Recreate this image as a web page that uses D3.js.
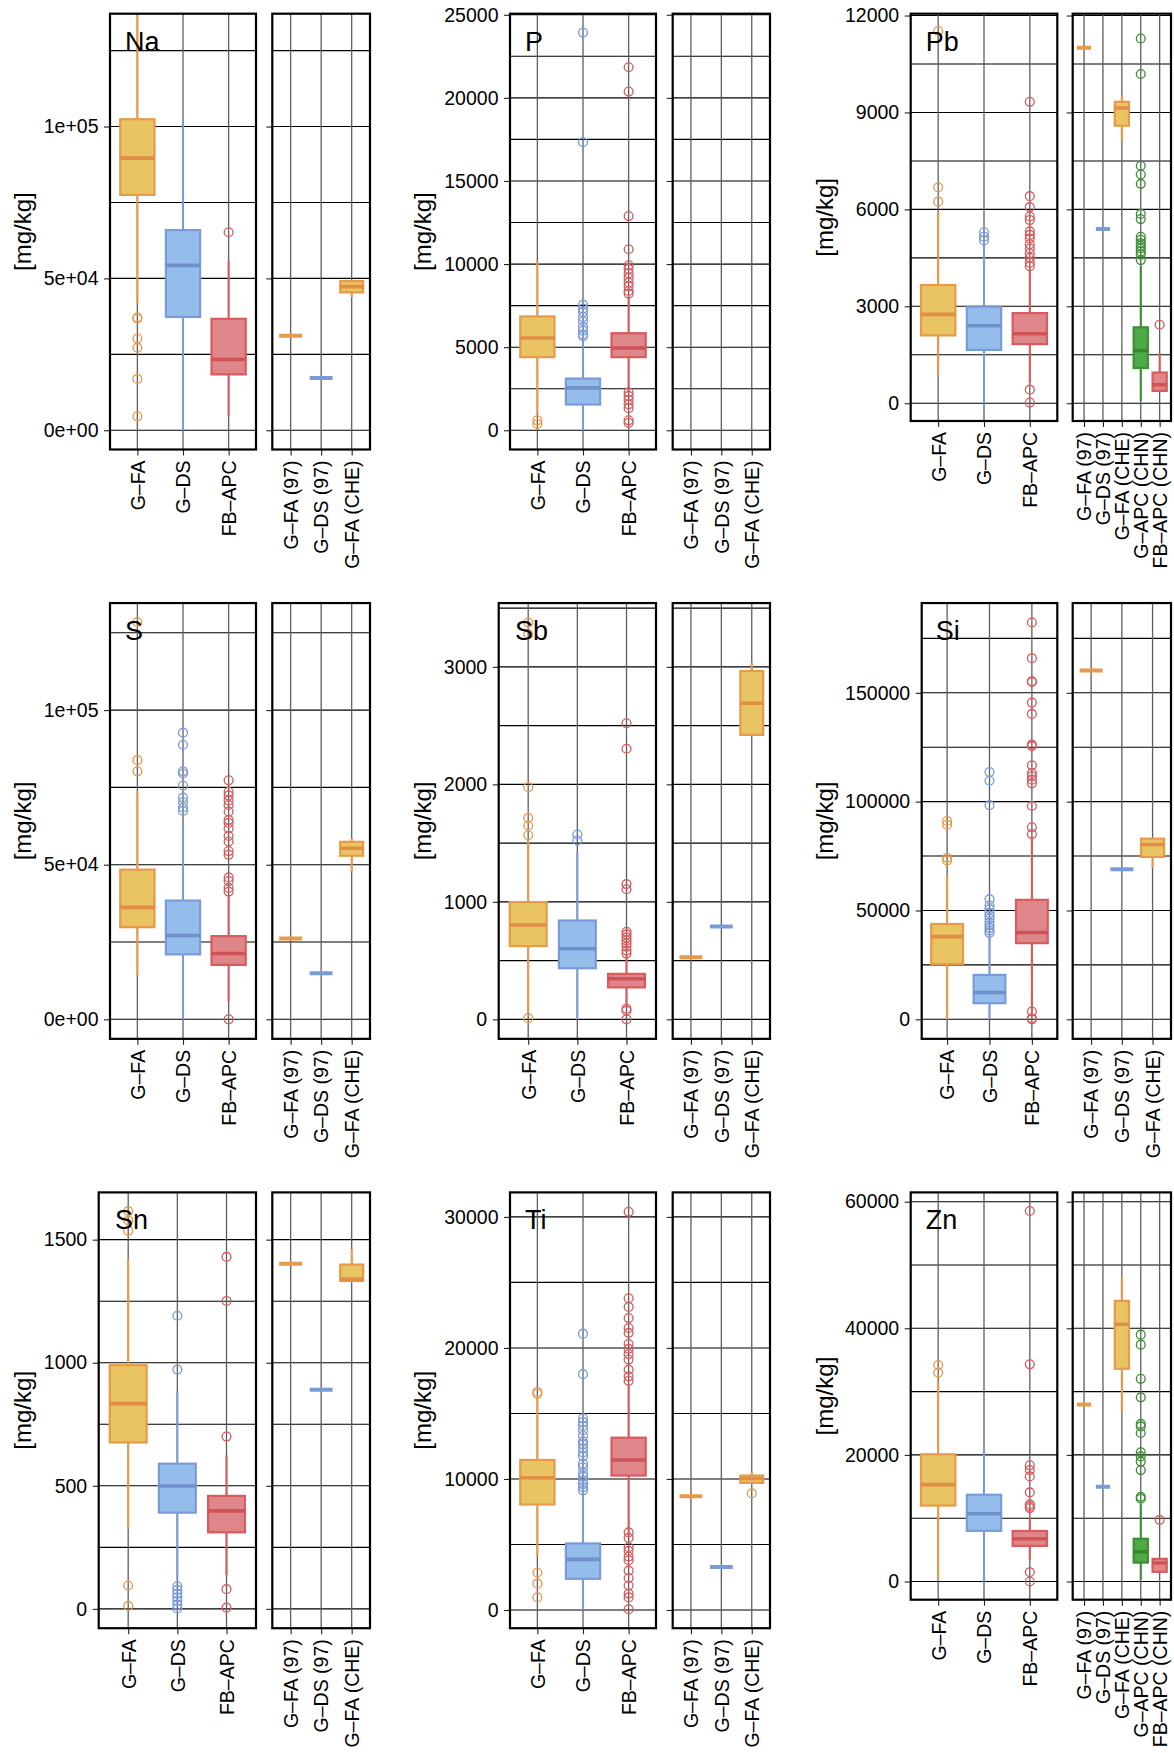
<!DOCTYPE html>
<html>
<head>
<meta charset="utf-8">
<script src="https://cdn.jsdelivr.net/npm/d3@7"></script>
<style>
  body { margin: 0; background: #fff; }
  svg { display: block; }
  text { font-family: "Liberation Sans", Arial, Helvetica, sans-serif; fill: #000; }
</style>
</head>
<body>
<svg id="chart" width="1174" height="1753"></svg>
<script>
// ---------------------------------------------------------------
// Data: element concentrations [mg/kg]
// Box statistics are [lower whisker, Q1, median, Q3, upper whisker]
// ---------------------------------------------------------------
const elements = ["Na", "P", "Pb", "S", "Sb", "Si", "Sn", "Ti", "Zn"];
const mainGroups = ["G–FA", "G–DS", "FB–APC"];
const refGroups = ["G–FA (97)", "G–DS (97)", "G–FA (CHE)", "G–APC (CHN)", "FB–APC (CHN)"];

// Na
const naBoxes = [[42000, 77500, 89600, 102400, 140000], [0, 37300, 54300, 65900, 102100], [4600, 18400, 23300, 36700, 55700]];
const naOutliers = [[37100, 36800, 30200, 27200, 16900, 4600], [], [65200]];
const naRefBoxes = [[31100, 31100, 31100, 31100, 31100], [17200, 17200, 17200, 17200, 17200], [43600, 45400, 47300, 49100, 49100]];
const naRefOutliers = [[], [], []];
const naLimits = [-6330, 137150];
const naTicks = [0, 50000, 100000];
const naTickLabels = ["0e+00", "5e+04", "1e+05"];

// P
const pBoxes = [[1000, 4400, 5550, 6850, 10200], [0, 1550, 2550, 3110, 5490], [2330, 4400, 4950, 5840, 8100]];
const pOutliers = [
  [600, 380],
  [5670, 5780, 6000, 6220, 6560, 6820, 7110, 7330, 7560, 17330, 23930],
  [8220, 8380, 8670, 8890, 9180, 9440, 9710, 9930, 10890, 12890, 20380, 21840, 2290, 2070, 1840, 1560, 1330, 600, 440]
];
const pRefBoxes = [null, null, null];
const pRefOutliers = [[], [], []];
const pLimits = [-1156, 25064];
const pTicks = [0, 5000, 10000, 15000, 20000, 25000];
const pTickLabels = ["0", "5000", "10000", "15000", "20000", "25000"];

// Pb
const pbBoxes = [[880, 2100, 2750, 3660, 5900], [0, 1650, 2400, 2990, 4920], [630, 1830, 2150, 2790, 4150]];
const pbOutliers = [
  [6240, 6680, 11520],
  [5040, 5150, 5290],
  [4240, 4350, 4500, 4640, 4790, 4920, 5100, 5210, 5320, 5670, 5780, 6070, 6410, 9330, 420, 20]
];
const pbRefBoxes = [
  [11000, 11000, 11000, 11000, 11000],
  [5390, 5390, 5390, 5390, 5390],
  [8110, 8590, 9140, 9330, 9530],
  [60, 1090, 1630, 2350, 4240],
  [380, 380, 570, 950, 1550]
];
const pbRefOutliers = [[], [], [], [4430, 4600, 4700, 4790, 4870, 4950, 5060, 5150, 5700, 5860, 6790, 7080, 7350, 10190, 11290], [2430]];
const pbLimits = [-550, 12057];
const pbTicks = [0, 3000, 6000, 9000, 12000];
const pbTickLabels = ["0", "3000", "6000", "9000", "12000"];

// S
const sBoxes = [[14300, 29800, 36200, 48400, 73900], [0, 21000, 27100, 38400, 63500], [5800, 17600, 21300, 26900, 40100]];
const sOutliers = [
  [80200, 83800, 128500],
  [92700, 88800, 80200, 79500, 75600, 71700, 70200, 68500, 67400],
  [77300, 73600, 72400, 70800, 69300, 67200, 64500, 63500, 61700, 59300, 57500, 54400, 53200, 45900, 44700, 42500, 41300, 0]
];
const sRefBoxes = [[26100, 26100, 26100, 26100, 26100], [14900, 14900, 14900, 14900, 14900], [47800, 52900, 55300, 57400, 58600]];
const sRefOutliers = [[], [], []];
const sLimits = [-6320, 134620];
const sTicks = [0, 50000, 100000];
const sTickLabels = ["0e+00", "5e+04", "1e+05"];

// Sb
const sbBoxes = [[60, 624, 803, 998, 1529], [0, 435, 601, 841, 1426], [122, 272, 345, 387, 540]];
const sbOutliers = [
  [10, 1567, 1650, 1714, 1976, 3278, 3377],
  [1522, 1573],
  [2520, 2303, 1151, 1107, 745, 723, 697, 672, 646, 617, 585, 560, 90, 74, 0]
];
const sbRefBoxes = [[528, 528, 528, 528, 528], [790, 790, 790, 790, 790], [2421, 2421, 2690, 2965, 3032]];
const sbRefOutliers = [[], [], []];
const sbLimits = [-166, 3543];
const sbTicks = [0, 1000, 2000, 3000];
const sbTickLabels = ["0", "1000", "2000", "3000"];

// Si
const siBoxes = [[0, 25400, 38000, 43800, 66100], [0, 7400, 12300, 20400, 39400], [3100, 35000, 39900, 54900, 84200]];
const siOutliers = [
  [73000, 74200, 89400, 91100],
  [39700, 40700, 41900, 43200, 44500, 46300, 47600, 48900, 50600, 52300, 55200, 98400, 109600, 113600],
  [85100, 88200, 98000, 108400, 110100, 111800, 113100, 116700, 125500, 126200, 140300, 145500, 155000, 155300, 165900, 182300, 3600, 500, 0]
];
const siRefBoxes = [[160200, 160200, 160200, 160200, 160200], [68900, 68900, 68900, 68900, 68900], [69600, 74600, 80300, 83000, 83000]];
const siRefOutliers = [[], [], []];
const siLimits = [-8975, 191240];
const siTicks = [0, 50000, 100000, 150000];
const siTickLabels = ["0", "50000", "100000", "150000"];

// Sn
const snBoxes = [[326, 676, 834, 990, 1420], [122, 391, 499, 590, 884], [137, 311, 398, 459, 623]];
const snOutliers = [
  [12, 95, 1536, 1578, 1616],
  [2, 17, 32, 47, 62, 77, 92, 972, 1191],
  [5, 80, 700, 1251, 1430]
];
const snRefBoxes = [[1402, 1402, 1402, 1402, 1402], [890, 890, 890, 890, 890], [1332, 1332, 1340, 1399, 1462]];
const snRefOutliers = [[], [], []];
const snLimits = [-78.5, 1692];
const snTicks = [0, 500, 1000, 1500];
const snTickLabels = ["0", "500", "1000", "1500"];

// Ti
const tiBoxes = [[4080, 8050, 10090, 11450, 16270], [0, 2380, 3860, 5080, 8900], [5640, 10260, 11450, 13150, 17120]];
const tiOutliers = [
  [960, 2010, 2860, 16500, 16640],
  [9130, 9380, 9610, 9890, 10180, 10460, 10890, 11170, 11740, 12020, 12360, 12640, 12870, 13300, 13720, 14060, 14350, 14630, 18000, 21090],
  [17490, 17830, 18340, 19110, 19530, 19930, 20300, 21150, 21520, 22280, 23130, 23790, 30390,
   5920, 5500, 4790, 4510, 4080, 3800, 3000, 2440, 1870, 1250, 960, 60]
];
const tiRefBoxes = [[8680, 8680, 8680, 8680, 8680], [3290, 3290, 3290, 3290, 3290], [9700, 9700, 10040, 10260, 10550]];
const tiRefOutliers = [[], [], [8900]];
const tiLimits = [-1389, 31870];
const tiTicks = [0, 10000, 20000, 30000];
const tiTickLabels = ["0", "10000", "20000", "30000"];

// Zn
const znBoxes = [[180, 12000, 15300, 20100, 31500], [0, 8000, 10700, 13700, 20400], [3400, 5630, 6750, 7980, 10150]];
const znOutliers = [
  [33000, 34200],
  [],
  [0, 1470, 11600, 11900, 12200, 14080, 16600, 17600, 18360, 34310, 58530]
];
const znRefBoxes = [
  [27980, 27980, 27980, 27980, 27980],
  [14960, 14960, 14960, 14960, 14960],
  [26860, 33610, 40640, 44340, 47980],
  [290, 2990, 4690, 6750, 12200],
  [1530, 1530, 2930, 3580, 3580]
];
const znRefOutliers = [[], [], [], [13080, 13370, 17600, 18940, 19760, 20410, 23460, 24500, 24900, 29090, 32020, 37420, 39000], [9740]];
const znLimits = [-2874, 61470];
const znTicks = [0, 20000, 40000, 60000];
const znTickLabels = ["0", "20000", "40000", "60000"];

// ---------------------------------------------------------------
// Panel table assembled from the arrays above
// ---------------------------------------------------------------
const panels = [
  [naBoxes, naOutliers, naRefBoxes, naRefOutliers, naLimits, naTicks, naTickLabels],
  [pBoxes, pOutliers, pRefBoxes, pRefOutliers, pLimits, pTicks, pTickLabels],
  [pbBoxes, pbOutliers, pbRefBoxes, pbRefOutliers, pbLimits, pbTicks, pbTickLabels],
  [sBoxes, sOutliers, sRefBoxes, sRefOutliers, sLimits, sTicks, sTickLabels],
  [sbBoxes, sbOutliers, sbRefBoxes, sbRefOutliers, sbLimits, sbTicks, sbTickLabels],
  [siBoxes, siOutliers, siRefBoxes, siRefOutliers, siLimits, siTicks, siTickLabels],
  [snBoxes, snOutliers, snRefBoxes, snRefOutliers, snLimits, snTicks, snTickLabels],
  [tiBoxes, tiOutliers, tiRefBoxes, tiRefOutliers, tiLimits, tiTicks, tiTickLabels],
  [znBoxes, znOutliers, znRefBoxes, znRefOutliers, znLimits, znTicks, znTickLabels]
].map(([boxes, outliers, refBoxes, refOutliers, limits, ticks, tickLabels], i) => ({
  name: elements[i], boxes, outliers, refBoxes, refOutliers, limits, ticks, tickLabels
}));

// ---------------------------------------------------------------
// Styling and layout
// ---------------------------------------------------------------
const palette = {
  fa:  { fill: "#E8C462", line: "#E8994A", mid: "#E18D45" },
  ds:  { fill: "#94BDEB", line: "#7A9BD8", mid: "#7090CC" },
  apc: { fill: "#DE868A", line: "#D95B5E", mid: "#D05255" },
  gapc:{ fill: "#4DAB45", line: "#3D8F35", mid: "#37852F" }
};
const groupStyle = {
  "G–FA": palette.fa, "G–DS": palette.ds, "FB–APC": palette.apc,
  "G–FA (97)": palette.fa, "G–DS (97)": palette.ds, "G–FA (CHE)": palette.fa,
  "G–APC (CHN)": palette.gapc, "FB–APC (CHN)": palette.apc
};

const columns = [
  { title: 31,    right: 256,    refL: 272.3,  refR: 370 },
  { title: 431,   right: 656,    refL: 672.7,  refR: 770 },
  { title: 832.5, right: 1057.3, refL: 1072.7, refR: 1171 }
];
const mainLeft = [110, 510, 910.7, 110, 498.7, 921.7, 98.7, 510, 910.7];
const rowPitch = 589.35;
const tickFont = 19.5;

const svg = d3.select("#chart");

function minorBreaks(ticks, domain) {
  const step = ticks[1] - ticks[0];
  const out = [];
  for (let v = ticks[0] - step / 2; v <= domain[1]; v += step) {
    if (v >= domain[0]) out.push(v);
  }
  return out;
}

function styleAxis(g) {
  g.select(".domain").remove();
  g.attr("font-size", null).attr("font-family", null);
  g.selectAll(".tick line").attr("stroke", "#222").attr("stroke-width", 1.1);
  g.selectAll(".tick text").style("font-size", tickFont + "px");
}

function drawBoxes(g, x, y, groups, boxes, outliers, bw) {
  groups.forEach((grp, i) => {
    const s = boxes[i];
    const st = groupStyle[grp];
    const cx = x(grp);
    if (s) {
      const [lo, q1, med, q3, hi] = s;
      // whiskers
      g.append("line").attr("x1", cx).attr("x2", cx).attr("y1", y(q3)).attr("y2", y(hi))
        .attr("stroke", st.line).attr("stroke-width", 2.1);
      g.append("line").attr("x1", cx).attr("x2", cx).attr("y1", y(q1)).attr("y2", y(lo))
        .attr("stroke", st.line).attr("stroke-width", 2.1);
      // box body
      if (q3 > q1) {
        g.append("rect").attr("x", cx - bw / 2).attr("width", bw)
          .attr("y", y(q3)).attr("height", y(q1) - y(q3))
          .attr("fill", st.fill).attr("stroke", st.line).attr("stroke-width", 2.2);
      }
      // median
      g.append("line").attr("x1", cx - bw / 2).attr("x2", cx + bw / 2)
        .attr("y1", y(med)).attr("y2", y(med))
        .attr("stroke", q3 > q1 ? st.mid : st.line)
        .attr("stroke-width", q3 > q1 ? 3.6 : 4);
    }
    g.selectAll(null).data(outliers[i] || []).enter().append("circle")
      .attr("cx", cx).attr("cy", d => y(d)).attr("r", 4.4)
      .attr("fill", "none").attr("stroke", st.line).attr("stroke-width", 1.35);
  });
}

function drawFrame(g, x, y, groups, L, R, top, bottom, p, withLabels, clipId) {
  // clip region
  svg.append("clipPath").attr("id", clipId).append("rect")
    .attr("x", L).attr("y", top).attr("width", R - L).attr("height", bottom - top);
  const plot = g.append("g").attr("clip-path", `url(#${clipId})`);
  plot.append("rect").attr("x", L).attr("y", top).attr("width", R - L).attr("height", bottom - top).attr("fill", "#fff");

  // horizontal grid (major + minor)
  const hLines = p.ticks.concat(minorBreaks(p.ticks, p.limits));
  plot.selectAll(null).data(hLines).enter().append("line")
    .attr("x1", L).attr("x2", R).attr("y1", d => y(d)).attr("y2", d => y(d))
    .attr("stroke", "#000").attr("stroke-width", 1.1);
  // vertical grid at categories
  plot.selectAll(null).data(groups).enter().append("line")
    .attr("x1", d => x(d)).attr("x2", d => x(d)).attr("y1", top).attr("y2", bottom)
    .attr("stroke", "#5e5e5e").attr("stroke-width", 1.3);

  // y axis ticks
  const ya = g.append("g").attr("transform", `translate(${L},0)`)
    .call(d3.axisLeft(y).tickValues(p.ticks).tickSize(6).tickPadding(5.5)
      .tickFormat((d, i) => withLabels ? p.tickLabels[i] : ""));
  styleAxis(ya);

  // x axis with rotated labels
  const xa = g.append("g").attr("transform", `translate(0,${bottom})`)
    .call(d3.axisBottom(x).tickSize(6));
  styleAxis(xa);
  xa.selectAll(".tick text")
    .attr("transform", "rotate(-90)")
    .attr("x", -11).attr("y", 0).attr("dy", "0.35em")
    .style("text-anchor", "end");

  return plot;
}

panels.forEach((p, idx) => {
  const r = Math.floor(idx / 3), c = idx % 3;
  const col = columns[c];
  const nRef = p.refBoxes.length;
  const top = 13.7 + rowPitch * r;
  const bottom = (nRef === 5 ? 421 : 449.5) + rowPitch * r;
  const refNames = refGroups.slice(0, nRef);

  const y = d3.scaleLinear().domain(p.limits).range([bottom, top]);
  const xMain = d3.scalePoint().domain(mainGroups).range([mainLeft[idx], col.right]).padding(0.6);
  const xRef = d3.scalePoint().domain(refNames).range([col.refL, col.refR]).padding(0.6);

  const g = svg.append("g").attr("class", "panel-" + p.name);

  // main panel
  const mainPlot = drawFrame(g, xMain, y, mainGroups, mainLeft[idx], col.right, top, bottom, p, true, "clip-main-" + idx);
  drawBoxes(mainPlot, xMain, y, mainGroups, p.boxes, p.outliers, 0.75 * xMain.step());

  // reference panel
  const refPlot = drawFrame(g, xRef, y, refNames, col.refL, col.refR, top, bottom, p, false, "clip-ref-" + idx);
  drawBoxes(refPlot, xRef, y, refNames, p.refBoxes, p.refOutliers, 0.75 * xRef.step());

  // panel borders
  [[mainLeft[idx], col.right], [col.refL, col.refR]].forEach(([L, R]) => {
    g.append("rect").attr("x", L).attr("y", top).attr("width", R - L).attr("height", bottom - top)
      .attr("fill", "none").attr("stroke", "#000").attr("stroke-width", 2.2);
  });

  // element label
  g.append("text")
    .attr("x", xMain(mainGroups[0]) - 0.27 * xMain.step())
    .attr("y", top + 37)
    .style("font-size", "27px")
    .text(p.name);

  // y axis title
  g.append("text")
    .attr("transform", `translate(${col.title},${(top + bottom) / 2}) rotate(-90)`)
    .style("text-anchor", "middle")
    .style("font-size", "24px")
    .text("[mg/kg]");
});
</script>
</body>
</html>
